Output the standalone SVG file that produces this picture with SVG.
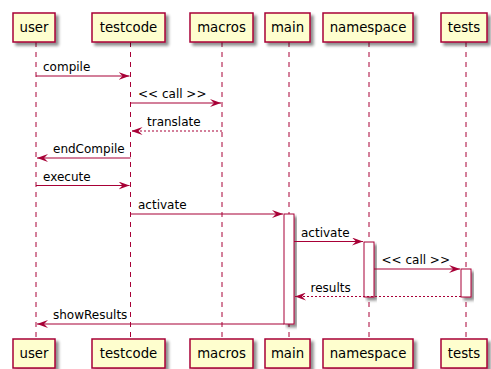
<svg xmlns="http://www.w3.org/2000/svg" width="491" height="369" viewBox="0 0 491 369">
<defs>
<filter id="sh" x="-20%" y="-20%" width="150%" height="150%">
<feGaussianBlur in="SourceAlpha" stdDeviation="1.5"/>
<feOffset dx="3" dy="3" result="b"/>
<feComponentTransfer><feFuncA type="linear" slope="0.45"/></feComponentTransfer>
<feMerge><feMergeNode/><feMergeNode in="SourceGraphic"/></feMerge>
</filter>
<marker id="ah" viewBox="0 0 11 8" refX="11" refY="4" markerWidth="11" markerHeight="8" markerUnits="userSpaceOnUse" orient="auto">
<polygon points="0,0 11,4 0,8 4,4" fill="#A80036"/>
</marker>
</defs>
<style>
.p rect{fill:#FEFECE;stroke:#A80036;stroke-width:1.5;filter:url(#sh)}
.p text{font-family:"DejaVu Sans",sans-serif;font-size:13.3px;fill:#000;text-anchor:middle}
.ll{stroke:#A80036;stroke-width:1;stroke-dasharray:5,5}
.act{fill:#FFFFFF;stroke:#A80036;stroke-width:1;filter:url(#sh)}
.m{stroke:#A80036;stroke-width:1.1;fill:none;marker-end:url(#ah)}
.r{stroke-dasharray:2,2}
.t{font-family:"DejaVu Sans",sans-serif;font-size:12px;fill:#000}
</style>
<rect width="491" height="369" fill="#FFFFFF"/>
<g id="lifelines">
<line class="ll" x1="36" y1="42" x2="36" y2="339"/>
<line class="ll" x1="130.5" y1="42" x2="130.5" y2="339"/>
<line class="ll" x1="222" y1="42" x2="222" y2="339"/>
<line class="ll" x1="289" y1="42" x2="289" y2="339"/>
<line class="ll" x1="369" y1="42" x2="369" y2="339"/>
<line class="ll" x1="466" y1="42" x2="466" y2="339"/>
</g>
<g id="activations">
<rect class="act" x="284" y="214" width="10" height="110"/>
<rect class="act" x="364" y="242" width="10" height="55"/>
<rect class="act" x="461" y="269" width="10" height="28"/>
</g>
<g id="user" class="p">
<rect x="13" y="13" width="42" height="29"/><text x="34" y="32">user</text>
<rect x="13" y="339" width="42" height="29"/><text x="34" y="358">user</text>
</g>
<g id="testcode" class="p">
<rect x="92" y="13" width="73" height="29"/><text x="128.5" y="32">testcode</text>
<rect x="92" y="339" width="73" height="29"/><text x="128.5" y="358">testcode</text>
</g>
<g id="macros" class="p">
<rect x="190" y="13" width="63" height="29"/><text x="221.5" y="32">macros</text>
<rect x="190" y="339" width="63" height="29"/><text x="221.5" y="358">macros</text>
</g>
<g id="main" class="p">
<rect x="265" y="13" width="45" height="29"/><text x="287.5" y="32">main</text>
<rect x="265" y="339" width="45" height="29"/><text x="287.5" y="358">main</text>
</g>
<g id="namespace" class="p">
<rect x="323" y="13" width="90" height="29"/><text x="368" y="32">namespace</text>
<rect x="323" y="339" width="90" height="29"/><text x="368" y="358">namespace</text>
</g>
<g id="tests" class="p">
<rect x="441" y="13" width="46" height="29"/><text x="464" y="32">tests</text>
<rect x="441" y="339" width="46" height="29"/><text x="464" y="358">tests</text>
</g>
<g id="connectors">
<line class="m" x1="36" y1="76" x2="129.5" y2="76"/>
<text class="t" x="43" y="71">compile</text>
<line class="m" x1="130.5" y1="103" x2="221" y2="103"/>
<text class="t" x="138" y="98">&lt;&lt; call &gt;&gt;</text>
<line class="m r" x1="222" y1="131" x2="131.5" y2="131"/>
<text class="t" x="147" y="126">translate</text>
<line class="m" x1="130.5" y1="158" x2="37" y2="158"/>
<text class="t" x="53" y="153">endCompile</text>
<line class="m" x1="36" y1="185.5" x2="129.5" y2="185.5"/>
<text class="t" x="43" y="180.5">execute</text>
<line class="m" x1="130.5" y1="214" x2="283" y2="214"/>
<text class="t" x="138" y="209">activate</text>
<line class="m" x1="294" y1="241.5" x2="363" y2="241.5"/>
<text class="t" x="301" y="236.5">activate</text>
<line class="m" x1="374" y1="269" x2="460" y2="269"/>
<text class="t" x="381.5" y="264">&lt;&lt; call &gt;&gt;</text>
<line class="m r" x1="461" y1="296.5" x2="295" y2="296.5"/>
<text class="t" x="310.5" y="291.5">results</text>
<line class="m" x1="284" y1="324" x2="37" y2="324"/>
<text class="t" x="53" y="319">showResults</text>
</g>
</svg>
